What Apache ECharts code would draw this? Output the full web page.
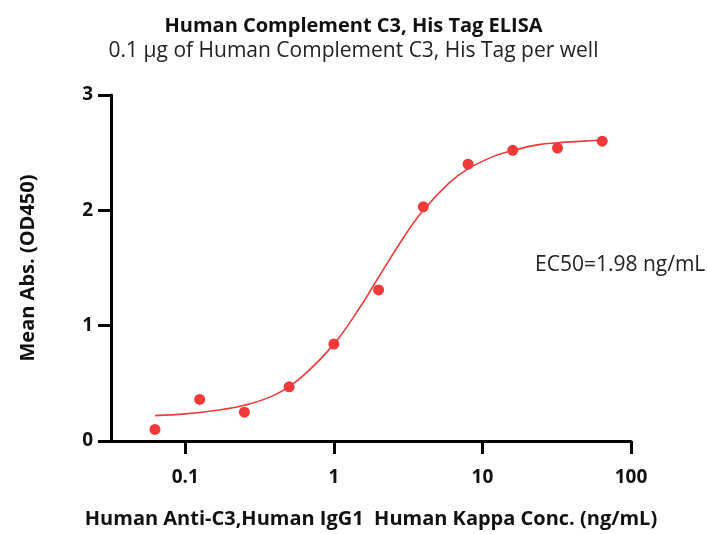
<!DOCTYPE html>
<html>
<head>
<meta charset="utf-8">
<script src="https://cdn.jsdelivr.net/npm/echarts@6/dist/echarts.min.js"></script>
<style>
  html, body { margin: 0; padding: 0; background: #fff; }
  #chart { width: 707px; height: 534px; }
</style>
</head>
<body>
<div id="chart"></div>
<script>
// measured points (ng/mL, OD450)
var conc = [0.0625, 0.125, 0.25, 0.5, 1, 2, 4, 8, 16, 32, 64];
var od = [0.10, 0.36, 0.25, 0.47, 0.84, 1.31, 2.03, 2.40, 2.52, 2.54, 2.60];

// fitted curve
var fitConc = [0.0625, 0.1, 0.15, 0.25, 0.4, 0.6, 1, 1.5, 2, 3, 4, 6, 8, 12, 16, 24, 32, 48, 64];
var fitOd = [0.22, 0.235, 0.26, 0.31, 0.40, 0.55, 0.84, 1.16, 1.42, 1.78, 2.00, 2.24, 2.36, 2.47, 2.52, 2.57, 2.585, 2.60, 2.61];

var xTicks = [0.1, 1, 10, 100];
var ec50Text = 'EC50=1.98 ng/mL';

var red = '#f03a3a';
var font = '"Open Sans", sans-serif';

var points = conc.map(function (c, i) { return [c, od[i]]; });
var curve = fitConc.map(function (c, i) { return [c, fitOd[i]]; });

var chart = echarts.init(document.getElementById('chart'));
var option = {
    backgroundColor: '#fff',
    animation: false,
    title: [
        {
            text: 'Human Complement C3, His Tag ELISA',
            left: 'center',
            top: 16,
            padding: 0,
            textStyle: { fontFamily: font, fontSize: 20, fontWeight: 'bold', color: '#111' }
        },
        {
            text: '0.1 μg of Human Complement C3, His Tag per well',
            left: 'center',
            top: 41,
            padding: 0,
            textStyle: { fontFamily: font, fontSize: 21, fontWeight: 'normal', color: '#222' }
        }
    ],
    grid: { left: 111, right: 76, top: 95, bottom: 93 },
    xAxis: {
        type: 'log',
        logBase: 10,
        min: 0.031623,
        max: 100,
        name: 'Human Anti-C3,Human IgG1  Human Kappa Conc. (ng/mL)',
        nameLocation: 'middle',
        nameGap: 68,
        nameTextStyle: { fontFamily: font, fontSize: 20, fontWeight: 'bold', color: '#111' },
        axisLine: { lineStyle: { color: '#000', width: 3 } },
        axisTick: { length: 13, lineStyle: { color: '#000', width: 3 }, customValues: xTicks },
        axisLabel: { customValues: xTicks, margin: 27, fontFamily: font, fontSize: 19, fontWeight: 'bold', color: '#111' },
        splitLine: { show: false },
        minorTick: { show: false }
    },
    yAxis: {
        type: 'value',
        min: 0,
        max: 3,
        interval: 1,
        name: 'Mean Abs. (OD450)',
        nameLocation: 'middle',
        nameGap: 73,
        nameTextStyle: { fontFamily: font, fontSize: 20, fontWeight: 'bold', color: '#111' },
        axisLine: { show: true, lineStyle: { color: '#000', width: 3 } },
        axisTick: { show: true, length: 13, lineStyle: { color: '#000', width: 3 } },
        axisLabel: { margin: 18, fontFamily: font, fontSize: 19, fontWeight: 'bold', color: '#111' },
        splitLine: { show: false }
    },
    graphic: [
        {
            type: 'text',
            x: 535,
            y: 265,
            style: {
                text: ec50Text,
                fontFamily: font,
                fontSize: 21,
                fill: '#222',
                verticalAlign: 'middle'
            }
        }
    ],
    series: [
        {
            name: 'fit',
            type: 'line',
            data: curve,
            smooth: 0.4,
            showSymbol: false,
            lineStyle: { color: red, width: 1.6 },
            z: 2
        },
        {
            name: 'data',
            type: 'scatter',
            data: points,
            symbolSize: 11,
            itemStyle: { color: red, opacity: 1 },
            z: 3
        }
    ]
};
chart.setOption(option);
</script>
</body>
</html>
